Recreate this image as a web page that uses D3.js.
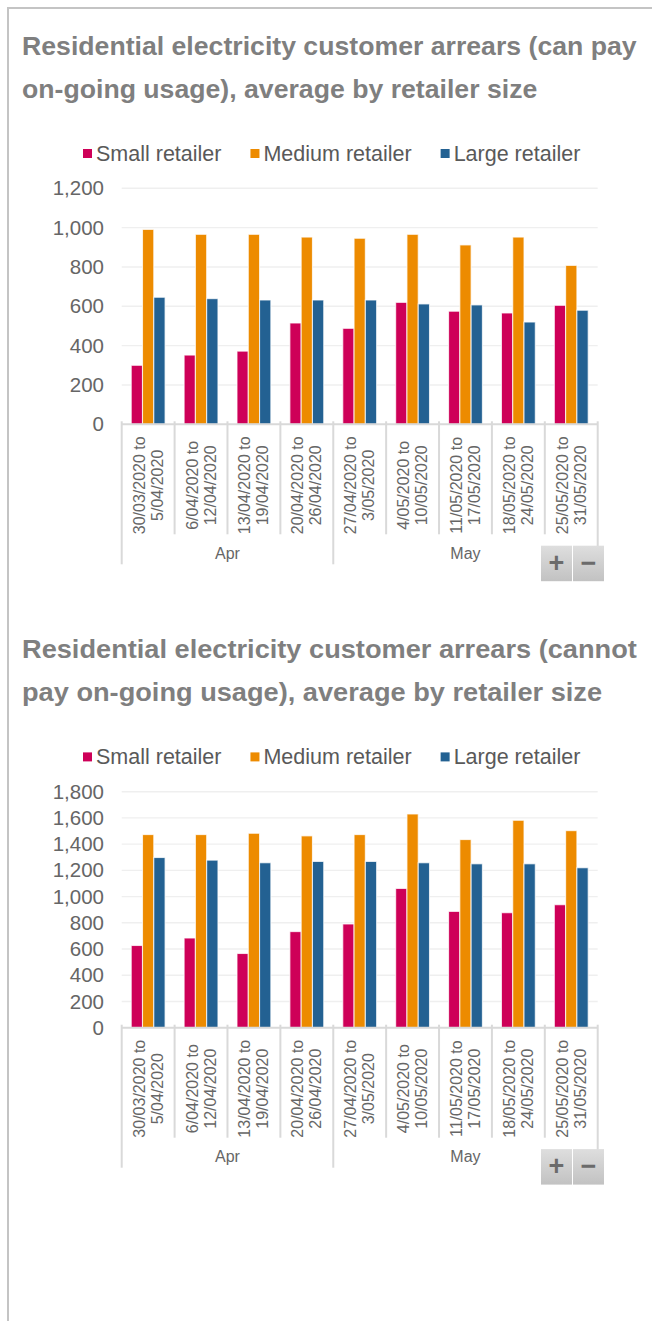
<!DOCTYPE html>
<html>
<head>
<meta charset="utf-8">
<script src="https://cdn.jsdelivr.net/npm/d3@7"></script>
<style>
  html, body { margin: 0; padding: 0; background: #fff; }
  svg { display: block; font-family: "Liberation Sans", Arial, sans-serif; }
</style>
</head>
<body>
<svg id="chart" width="653" height="1321"></svg>
<script>
// ---------- data ----------
const categories = [
  "30/03/2020 to 5/04/2020",
  "6/04/2020 to 12/04/2020",
  "13/04/2020 to 19/04/2020",
  "20/04/2020 to 26/04/2020",
  "27/04/2020 to 3/05/2020",
  "4/05/2020 to 10/05/2020",
  "11/05/2020 to 17/05/2020",
  "18/05/2020 to 24/05/2020",
  "25/05/2020 to 31/05/2020"
];
const monthOfCategory = ["Apr", "Apr", "Apr", "Apr", "May", "May", "May", "May", "May"];
const seriesNames = ["Small retailer", "Medium retailer", "Large retailer"];

const title1 = ["Residential electricity customer arrears (can pay", "on-going usage), average by retailer size"];
const small1 = [300, 352, 372, 515, 488, 620, 575, 566, 605];
const medium1 = [991, 966, 966, 952, 946, 966, 912, 952, 808];
const large1 = [646, 639, 632, 632, 632, 612, 607, 520, 580];
const yTicks1 = [0, 200, 400, 600, 800, 1000, 1200];

const title2 = ["Residential electricity customer arrears (cannot", "pay on-going usage), average by retailer size"];
const small2 = [627, 684, 566, 733, 791, 1062, 887, 877, 938];
const medium2 = [1473, 1473, 1483, 1463, 1473, 1630, 1435, 1582, 1503];
const large2 = [1298, 1278, 1258, 1268, 1268, 1258, 1250, 1250, 1220];
const yTicks2 = [0, 200, 400, 600, 800, 1000, 1200, 1400, 1600, 1800];

// ---------- styles ----------
const colors = ["#CE0058", "#ED8B00", "#236192"];
const svg = d3.select("#chart");
const fmt = d3.format(",");

// gradient for +/- buttons
const defs = svg.append("defs");
const grad = defs.append("linearGradient").attr("id", "btnGrad").attr("x1", 0).attr("y1", 0).attr("x2", 0).attr("y2", 1);
grad.append("stop").attr("offset", "0%").attr("stop-color", "#dedede");
grad.append("stop").attr("offset", "100%").attr("stop-color", "#c2c2c2");

// outer frame
svg.append("line").attr("x1", 8).attr("x2", 8).attr("y1", 7).attr("y2", 1321)
  .attr("stroke", "#c4c4c4").attr("stroke-width", 2);
svg.append("line").attr("x1", 7).attr("x2", 652).attr("y1", 8).attr("y2", 8)
  .attr("stroke", "#c4c4c4").attr("stroke-width", 2);

function drawChart(off, titleLines, values, yTicks) {
  const g = svg.append("g").attr("transform", `translate(0,${off})`);

  // title
  const tg = g.append("g");
  const tTexts = tg.selectAll("text").data(titleLines).join("text")
    .attr("x", 0).attr("y", (d, i) => 55 + i * 43)
    .attr("font-size", 25).attr("font-weight", "bold").attr("fill", "#7f7f7f")
    .text(d => d);
  const w0 = tTexts.node().getComputedTextLength();
  const sx = 615 / w0;
  tTexts.attr("transform", `translate(22,0) scale(${sx},1)`);

  // legend
  const lg = g.append("g").attr("transform", "translate(0,161)");
  let lx = 83;
  seriesNames.forEach((name, i) => {
    lg.append("rect").attr("x", lx).attr("y", -12).attr("width", 9).attr("height", 9).attr("fill", colors[i]);
    const t = lg.append("text").attr("x", lx + 13).attr("y", 0)
      .attr("font-size", 21.5).attr("fill", "#595959").text(name);
    lx += 13 + t.node().getComputedTextLength() + 29;
  });

  // scales
  const x0 = d3.scaleBand().domain(categories).range([121.7, 597.7]).paddingInner(0.36).paddingOuter(0.18);
  const x1 = d3.scaleBand().domain([0, 1, 2]).range([0, x0.bandwidth()]);
  const y = d3.scaleLinear().domain([0, yTicks[yTicks.length - 1]]).range([424.3, 188.3]);

  // gridlines
  g.append("g").selectAll("line").data(yTicks.filter(d => d > 0)).join("line")
    .attr("x1", 121.7).attr("x2", 597.7)
    .attr("y1", d => y(d)).attr("y2", d => y(d))
    .attr("stroke", "#efefef").attr("stroke-width", 1.4);

  // y axis labels via d3 axis
  const yAxis = g.append("g").attr("transform", "translate(104,0)")
    .call(d3.axisLeft(y).tickValues(yTicks).tickFormat(fmt).tickSize(0).tickPadding(0));
  yAxis.select(".domain").remove();
  yAxis.selectAll("text").attr("font-size", 20.5).attr("fill", "#666").attr("font-family", "Liberation Sans, Arial, sans-serif");

  // bars
  const groups = g.append("g").selectAll("g").data(categories).join("g")
    .attr("transform", d => `translate(${x0(d)},0)`);
  groups.selectAll("rect").data((d, ci) => values.map((arr, si) => ({ si, v: arr[ci] }))).join("rect")
    .attr("x", d => x1(d.si))
    .attr("width", x1.bandwidth())
    .attr("y", d => y(d.v))
    .attr("height", d => y(0) - y(d.v))
    .attr("fill", d => colors[d.si])
    .attr("stroke", "#ffffff").attr("stroke-opacity", 0.75).attr("stroke-width", 1.1);

  // x axis line
  const axisY = y(0);
  g.append("line").attr("x1", 121.7).attr("x2", 597.7).attr("y1", axisY).attr("y2", axisY)
    .attr("stroke", "#d9d9d9").attr("stroke-width", 2);

  // category dividers
  const step = x0.step();
  const bounds = d3.range(categories.length + 1).map(i => 121.7 + i * step);
  bounds.forEach((bx, i) => {
    const isGroupEdge = i === 0 || i === categories.length || monthOfCategory[i] !== monthOfCategory[i - 1];
    g.append("line").attr("x1", bx).attr("x2", bx)
      .attr("y1", axisY - 3).attr("y2", axisY + (isGroupEdge ? 140 : 110))
      .attr("stroke", "#d9d9d9").attr("stroke-width", 2);
  });

  // category labels (rotated, two lines)
  const labelG = g.append("g");
  categories.forEach(c => {
    const parts = c.split(" to ");
    const cx = x0(c) + x0.bandwidth() / 2;
    const t = labelG.append("text")
      .attr("transform", `translate(${cx},${axisY + 61}) rotate(-90)`)
      .attr("text-anchor", "middle").attr("font-size", 16).attr("fill", "#666");
    t.append("tspan").attr("x", 0).attr("y", -3.5).text(parts[0] + " to");
    t.append("tspan").attr("x", 0).attr("y", 14.5).text(parts[1]);
  });

  // month labels
  const months = Array.from(new Set(monthOfCategory));
  months.forEach(m => {
    const idx = monthOfCategory.map((mm, i) => mm === m ? i : -1).filter(i => i >= 0);
    const a = bounds[idx[0]], b = bounds[idx[idx.length - 1] + 1];
    g.append("text").attr("x", (a + b) / 2).attr("y", axisY + 134.5)
      .attr("text-anchor", "middle").attr("font-size", 16).attr("fill", "#666").text(m);
  });

  // +/- buttons
  const by = axisY + 121.4;
  [["+", 541], ["\u2212", 573]].forEach(([s, bx]) => {
    g.append("rect").attr("x", bx).attr("y", by).attr("width", 31).attr("height", 35.5)
      .attr("fill", "url(#btnGrad)");
    g.append("text").attr("x", bx + 15.5).attr("y", by + 26).attr("text-anchor", "middle")
      .attr("font-size", 27).attr("font-weight", "bold").attr("fill", "#6b6b6b").text(s);
  });
}

drawChart(0, title1, [small1, medium1, large1], yTicks1);
drawChart(603.4, title2, [small2, medium2, large2], yTicks2);
</script>
</body>
</html>
